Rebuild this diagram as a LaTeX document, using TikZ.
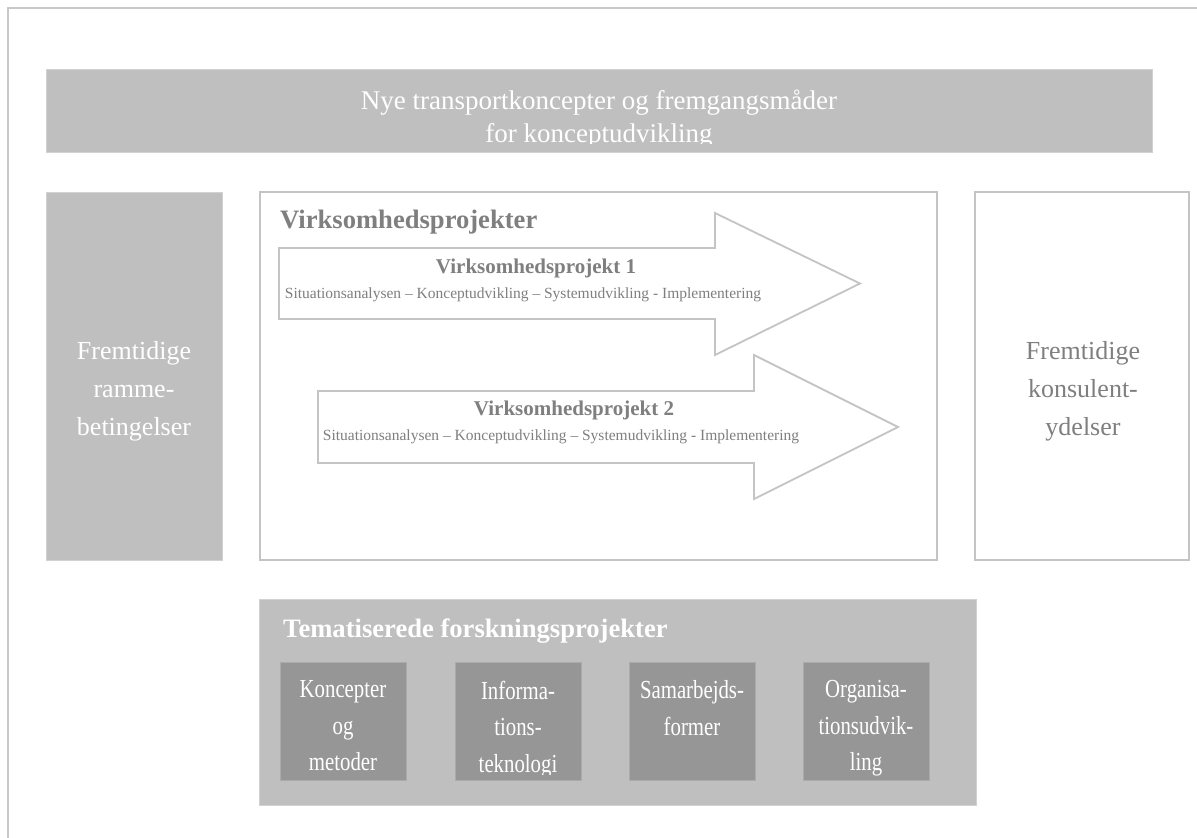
\documentclass[tikz,border=0pt]{standalone}
\usepackage{fontspec}
\setmainfont{Liberation Serif}
\newfontfamily\condfont[FakeStretch=0.8]{Liberation Serif}
\definecolor{lightfill}{RGB}{191,191,191}
\definecolor{darkfill}{RGB}{150,150,150}
\definecolor{textgray}{RGB}{127,127,127}
\definecolor{linegray}{RGB}{196,196,196}
\definecolor{framegray}{RGB}{200,200,200}
\tikzset{
  graybox/.style={fill=lightfill, draw=lightfill!70!white, line width=1pt, inner sep=0pt},
  openbox/.style={fill=white, draw=linegray, line width=2pt, inner sep=0pt},
  smallbox/.style={fill=darkfill, draw=darkfill!80!white, line width=1pt, inner sep=0pt, minimum width=126pt, minimum height=118pt},
  bigtext/.style={font=\fontsize{26}{38}\selectfont, align=center, inner sep=0pt},
  cellstext/.style={font=\condfont\fontsize{26}{36.5}\selectfont, text=white, align=center, inner sep=0pt, anchor=north},
  headtext/.style={font=\bfseries\fontsize{26.6}{30}\selectfont, inner sep=0pt, anchor=west},
  arrowtitle/.style={font=\bfseries\fontsize{21}{24}\selectfont, text=textgray, inner sep=0pt},
  arrowsub/.style={font=\fontsize{15.5}{18}\selectfont, text=textgray, inner sep=0pt},
  bigarrow/.style={fill=white, draw=linegray, line width=1.8pt, line join=miter}
}
\begin{document}
\begin{tikzpicture}[x=1pt,y=-1pt]
\useasboundingbox (0,0) rectangle (1197,838);
\fill[white] (0,0) rectangle (1197,838);
% outer frame (only top and left visible)
\draw[framegray, line width=2pt] (8,850) -- (8,8) -- (1210,8);

% top banner
\node[graybox, minimum width=1106pt, minimum height=83pt] (banner) at (599,110.5) {};
\begin{scope}
\clip (46,69) rectangle (1152,143);
\node[bigtext, text=white, font=\fontsize{27}{33}\selectfont] (bannertext) at (599,119.5) {Nye transportkoncepter og fremgangsmåder\\for konceptudvikling};
\end{scope}

% left box
\node[graybox, minimum width=176pt, minimum height=368pt] (left) at (134,376) {};
\node[bigtext, text=white] (lefttext) at (134,391) {Fremtidige\\ramme-\\betingelser};

% right box
\node[openbox, minimum width=214pt, minimum height=368pt] (right) at (1082,376) {};
\node[bigtext, text=textgray] (righttext) at (1083,391) {Fremtidige\\konsulent-\\ydelser};

% main box
\node[openbox, minimum width=677pt, minimum height=368pt] (main) at (598.5,376) {};
\node[headtext, text=textgray] (mainhead) at (280,222) {Virksomhedsprojekter};

% arrows
\draw[bigarrow] (279,248) -- (715,248) -- (715,213) -- (860,283.5) -- (715,355) -- (715,319) -- (279,319) -- cycle;
\node[arrowtitle] (a1title) at (536,268) {Virksomhedsprojekt 1};
\node[arrowsub] (a1sub) at (523,295) {Situationsanalysen – Konceptudvikling – Systemudvikling - Implementering};
\draw[bigarrow] (318,391) -- (754,391) -- (754,355) -- (898,427) -- (754,499) -- (754,463) -- (318,463) -- cycle;
\node[arrowtitle] (a2title) at (574,410) {Virksomhedsprojekt 2};
\node[arrowsub] (a2sub) at (561,437) {Situationsanalysen – Konceptudvikling – Systemudvikling - Implementering};

% bottom box
\node[graybox, minimum width=717pt, minimum height=206pt] (bottom) at (617.5,702) {};
\node[headtext, text=white] (bottomhead) at (283,631) {Tematiserede forskningsprojekter};

\node[smallbox] (c1) at (343,721) {};
\node[smallbox] (c2) at (518,721) {};
\node[smallbox] (c3) at (692,721) {};
\node[smallbox] (c4) at (866,721) {};
\node[cellstext] (c1text) at (343,680.5) {Koncepter\\og\\metoder};
\begin{scope}
\clip (455,662) rectangle (581,774);
\node[cellstext] (c2text) at (518,680.5) {Informa-\\tions-\\teknologi};
\end{scope}
\node[cellstext] (c3text) at (692,680.5) {Samarbejds-\\former};
\node[cellstext] (c4text) at (866,680.5) {Organisa-\\tionsudvik-\\ling};
\end{tikzpicture}
\end{document}
